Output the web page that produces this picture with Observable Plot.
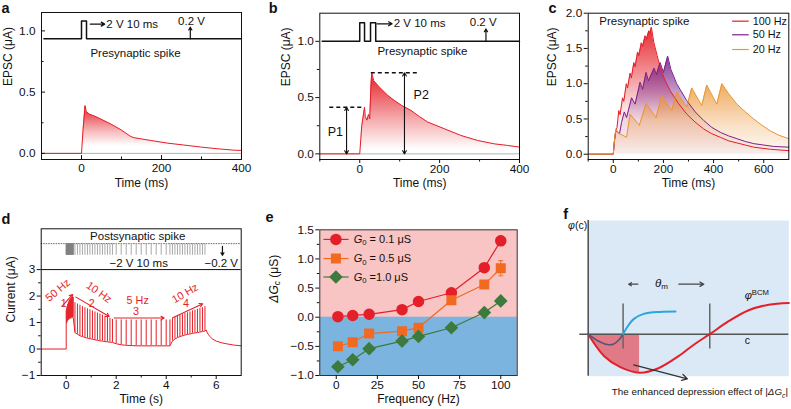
<!DOCTYPE html>
<html><head><meta charset="utf-8">
<script src="https://cdn.jsdelivr.net/npm/d3@7"></script>
<script src="https://cdn.jsdelivr.net/npm/@observablehq/plot@0.6"></script>
<style>
html,body{margin:0;padding:0;background:#fff;}
#fig{position:relative;width:791px;height:409px;overflow:hidden;}
#fig svg{position:absolute;left:0;top:0;}
</style></head><body><div id="fig"></div>
<script>
// ---------------- data ----------------
// panel a : single presynaptic spike
const aTime = [-100,0,4,9,12,20,39,72,100,122,131,172,214,256,297,339,381,400];
const aEPSC = [0,0,0.2,0.39,0.34,0.32,0.295,0.242,0.19,0.14,0.128,0.106,0.084,0.068,0.052,0.038,0.026,0.024];
const aStimT = [-94,0,0,12.5,12.5,400];
const aStimV = [0.935,0.935,1.08,1.08,0.935,0.935];
// panel b : paired pulse
const bTime = [-100,0,5,12,14,18,22,25,28,30,35,50,70,86,105,128,150,170,212,253,295,337,370,400];
const bEPSC = [0,0,0.25,0.414,0.33,0.3,0.35,0.31,0.6,0.72,0.65,0.59,0.52,0.476,0.43,0.387,0.33,0.283,0.223,0.164,0.119,0.089,0.075,0.06];
const bStimT = [-94,0,0,12,12,27,27,40,40,400];
const bStimV = [1,1,1.165,1.165,1,1,1.165,1.165,1,1];
const bPeakNames = ["P1","P2"];
const bPeakLevels = [0.414,0.72];
// panel c : spike trains
const cNames = ["100 Hz","50 Hz","20 Hz"];
const c100T = [-100,0,5,10,15,22,27,37,42,52,57,67,72,82,87,97,102,112,117,127,132,142,146,152,162,175,187,205,227,260,293,325,360,393,427,460,493,527,560,627,700];
const c100V = [0,0,0.2,0.33,0.38,0.62,0.56,0.8,0.75,1.0,0.94,1.15,1.08,1.3,1.24,1.45,1.4,1.58,1.53,1.68,1.63,1.75,1.72,1.8,1.58,1.4,1.23,1.06,0.9,0.72,0.57,0.46,0.36,0.29,0.24,0.19,0.16,0.13,0.1,0.07,0.05];
const c50T = [-100,0,5,10,13,25,33,44,53,73,87,107,117,131,140,163,172,187,200,217,230,253,293,327,360,393,427,460,493,527,560,600,640,700];
const c50V = [0,0,0.2,0.33,0.33,0.29,0.45,0.6,0.52,0.8,0.71,1.02,0.92,1.16,1.04,1.22,1.13,1.3,1.16,1.39,1.2,1.0,0.76,0.6,0.48,0.38,0.31,0.26,0.22,0.18,0.15,0.13,0.11,0.1];
const c20T = [-100,0,5,10,20,53,67,104,131,171,193,233,253,293,313,353,373,413,433,460,493,527,560,593,627,660,700];
const c20V = [0,0,0.2,0.36,0.3,0.24,0.57,0.41,0.72,0.52,0.83,0.62,0.88,0.67,0.94,0.69,0.98,0.71,1.0,0.86,0.71,0.6,0.5,0.41,0.33,0.27,0.22];
// panel d : postsynaptic spike train (spike times, peaks, troughs)
const dT50 = [0,0.02,0.04,0.06,0.08,0.10,0.12,0.14,0.16,0.18,0.20,0.22,0.24,0.26,0.28];
const dP50 = [1.45,1.55,1.62,1.68,1.73,1.78,1.82,1.86,1.88,1.9,1.92,1.93,1.94,1.95,1.95];
const dB50 = [0.95,1.0,1.05,1.08,1.1,1.12,1.14,1.15,1.16,1.17,1.18,1.18,1.19,1.2,1.2];
const dT10a = [0.35,0.45,0.55,0.65,0.75,0.85,0.95,1.05,1.15,1.25,1.35,1.45,1.55,1.65,1.75,1.85];
const dP10a = [1.75,1.7,1.65,1.6,1.56,1.52,1.48,1.44,1.4,1.36,1.32,1.28,1.24,1.2,1.16,1.12];
const dB10a = [0.62,0.56,0.5,0.47,0.44,0.41,0.39,0.37,0.35,0.33,0.31,0.3,0.28,0.27,0.26,0.25];
const dT5 = [2.0,2.2,2.4,2.6,2.8,3.0,3.2,3.4,3.6,3.8,4.0];
const dP5 = [1.1,1.1,1.09,1.1,1.08,1.1,1.09,1.1,1.08,1.1,1.1];
const dB5 = [0.2,0.16,0.14,0.13,0.12,0.12,0.12,0.12,0.12,0.12,0.12];
const dT10b = [4.15,4.25,4.35,4.45,4.55,4.65,4.75,4.85,4.95,5.05,5.15,5.25,5.35,5.45,5.55];
const dP10b = [1.1,1.15,1.19,1.23,1.27,1.3,1.34,1.37,1.4,1.44,1.47,1.5,1.53,1.56,1.6];
const dB10b = [0.12,0.3,0.38,0.43,0.47,0.5,0.53,0.55,0.57,0.59,0.61,0.62,0.64,0.66,0.68];
const dTailT = [5.6,5.65,5.72,5.85,6.0,6.2,6.4,6.7,7.0];
const dTailV = [0.72,0.6,0.5,0.38,0.3,0.24,0.2,0.15,0.12];
// panel e : ΔGc vs frequency
const eFreq = [1,10,20,40,50,70,90,100];
const eG01 = [0.01,0.03,0.05,0.13,0.27,0.42,0.85,1.31];
const eG05 = [-0.5,-0.43,-0.28,-0.24,-0.18,0.29,0.56,0.84];
const eG10 = [-0.85,-0.73,-0.54,-0.41,-0.33,-0.18,0.08,0.28];
const eErr01 = [0,0,0,0,0,0.02,0.03,0.08];
const eErr05 = [0,0,0,0,0,0.03,0.06,0.13];
const eErr10 = [0,0,0,0,0,0,0.02,0.03];
const eNames = ["G0 = 0.1 μS","G0 = 0.5 μS","G0 =1.0 μS"];
// panel f : BCM schematic
const fBcmX = [0,8,16,25.6,35,45,53,60.6,70,80,90,100];
const fBcmY = [0,-22,-33,-38.5,-34,-22,-10,0,13,24,29.5,31.3];
const fDipX = [0,4.5,9.5,12.8,15.3,17.4];
const fDipY = [0,-6.3,-10.3,-9.7,-5.7,0];
const fLtpX = [17.4,19.4,22.8,27.7,36,43.5];
const fLtpY = [0,7,15.3,20.3,22.3,22.7];
const fTheta = [17.4,60.6];

// ---------------- helpers ----------------
const W = 791, H = 409;
const FONT = '"Liberation Sans", Arial, Helvetica, sans-serif';
const RED = "#e41e26", PURPLE = "#7a2188", ORANGE = "#eb9535";
const FS = 12, FT = 11.5, FTICK = 11.8;
const zip = (X, Y) => X.map((x, i) => ({x, y: Y[i]}));
const txt = (s, o) => Plot.text([s], {text: d => d, fontSize: FT, fontFamily: FONT, ...o});

function mkPlot(fr, xd, yd, marks, noAxes) {
  const [l, t, r, b] = fr;
  return Plot.plot({
    width: W, height: H,
    marginLeft: l, marginTop: t, marginRight: W - r, marginBottom: H - b,
    x: noAxes ? {domain: xd, axis: null} : {domain: xd},
    y: noAxes ? {domain: yd, axis: null} : {domain: yd},
    style: `background: transparent; font-family: ${FONT}; font-size: ${FT}px; overflow: visible; color: #111;`,
    marks
  });
}
function axes(o) {
  const s = o.inward ? -1 : 1;
  const m = [
    Plot.axisX(o.xt, {anchor: "bottom", tickSize: 4 * s, tickPadding: o.inward ? 8.5 : 1, tickFormat: o.xf, label: null, fontSize: FTICK, fontFamily: FONT}),
    Plot.axisY(o.yt, {anchor: "left", tickSize: 4 * s, tickPadding: o.inward ? 10 : 2, tickFormat: o.yf, label: null, fontSize: FTICK, fontFamily: FONT})
  ];
  if (o.xm) m.push(Plot.axisX(o.xm, {anchor: "bottom", tickSize: 2.5 * s, tickFormat: () => "", label: null}));
  if (o.ym) m.push(Plot.axisY(o.ym, {anchor: "left", tickSize: 2.5 * s, tickFormat: () => "", label: null}));
  return m;
}
function titles(xl, xdy, yl, ydx, letter, ldx, ldy, ly) {
  const m = [
    txt(xl, {frameAnchor: "bottom", dy: xdy, fontSize: FS}),
    txt(letter, {frameAnchor: "top-left", dx: ldx, dy: ldy, textAnchor: "start", lineAnchor: "bottom", fontSize: 14.5, fontWeight: "bold"})
  ];
  if (ly === undefined) m.push(txt(yl, {frameAnchor: "left", dx: ydx, rotate: -90, fontSize: FS}));
  else m.push(Plot.text([ly], {y: d => d, text: () => yl, frameAnchor: "left", dx: ydx, rotate: -90, fontSize: FS, fontFamily: FONT}));
  return m;
}
const NS = "http://www.w3.org/2000/svg";
function addGrad(svg, id, color, stops) {
  let defs = svg.querySelector("defs");
  if (!defs) { defs = document.createElementNS(NS, "defs"); svg.insertBefore(defs, svg.firstChild); }
  const g = document.createElementNS(NS, "linearGradient");
  g.setAttribute("id", id); g.setAttribute("x1", "0"); g.setAttribute("y1", "0"); g.setAttribute("x2", "0"); g.setAttribute("y2", "1");
  for (const [off, op] of stops) {
    const s = document.createElementNS(NS, "stop");
    s.setAttribute("offset", off); s.setAttribute("stop-color", color); s.setAttribute("stop-opacity", op);
    g.appendChild(s);
  }
  defs.appendChild(g);
}
const RICH = {
  "G0 = 0.1 μS": [["G", "i"], ["0", "sub"], [" = 0.1 μS", ""]],
  "G0 = 0.5 μS": [["G", "i"], ["0", "sub"], [" = 0.5 μS", ""]],
  "G0 =1.0 μS": [["G", "i"], ["0", "sub"], [" =1.0 μS", ""]],
  "ΔGc (μS)": [["ΔG", "i"], ["c", "isub"], [" (μS)", ""]],
  "θm": [["θ", "i"], ["m", "sub"]],
  "φBCM": [["φ", "i"], ["BCM", "sup"]],
  "φ(c)": [["φ", "i"], ["(c)", ""]],
  "The enhanced depression effect of |ΔGc|": [["The enhanced depression effect of |", ""], ["ΔG", "i"], ["c", "isub"], ["|", ""]]
};
function richify(svg) {
  svg.querySelectorAll("text").forEach(t => {
    const segs = RICH[t.textContent];
    if (!segs) return;
    while (t.firstChild) t.removeChild(t.firstChild);
    let shift = 0;
    for (const [s, k] of segs) {
      const ts = document.createElementNS(NS, "tspan");
      ts.textContent = s;
      const target = k.includes("sub") ? 2.5 : k.includes("sup") ? -4 : 0;
      if (target !== shift) { ts.setAttribute("dy", target - shift); shift = target; }
      if (k.startsWith("i")) ts.setAttribute("font-style", "italic");
      if (k.includes("sub") || k.includes("sup")) ts.setAttribute("font-size", "0.7em");
      t.appendChild(ts);
    }
  });
}
const f1 = d3.format(".1f"), f0 = d3.format("d");

// ---------------- panel a ----------------
const aRows = zip(aTime, aEPSC);
const aPlot = mkPlot([41, 12, 241, 159], [-100, 400], [-0.05, 1.15], [
  Plot.ruleY([0], {stroke: "#a0a0a0", strokeWidth: 0.8}),
  Plot.areaY(aRows, {x: "x", y: "y", fill: "url(#gradA)"}),
  Plot.line(aRows, {x: "x", y: "y", stroke: RED, strokeWidth: 1}),
  Plot.line(zip(aStimT, aStimV), {x: "x", y: "y", stroke: "#111", strokeWidth: 1.5}),
  Plot.arrow([0], {x1: 22, y1: 1.055, x2: 58, y2: 1.055, headLength: 5, strokeWidth: 1.2}),
  txt("2 V 10 ms", {x: 62, y: 1.055, textAnchor: "start"}),
  txt("0.2 V", {x: 275, y: 1.08}),
  Plot.arrow([0], {x1: 272, y1: 0.935, x2: 272, y2: 1.03, headLength: 4, strokeWidth: 1.2}),
  txt("Presynaptic spike", {x: 135, y: 0.818}),
  Plot.frame({stroke: "#111"}),
  ...axes({xt: [0, 200, 400], xm: [-100, 100, 300], xf: f0, yt: [0, 0.5, 1.0], ym: [0.25, 0.75], yf: f1, inward: true}),
  ...titles("Time (ms)", 27.5, "EPSC (μA)", -33, "a", -40, 0)
]);
addGrad(aPlot, "gradA", RED, [[0, 1], [0.55, 0.3], [0.85, 0]]);

// ---------------- panel b ----------------
const bRows = zip(bTime, bEPSC);
const bPlot = mkPlot([319.3, 12.7, 519, 159], [-100, 400], [-0.05, 1.25], [
  Plot.ruleY([0], {stroke: "#a0a0a0", strokeWidth: 0.8}),
  Plot.areaY(bRows, {x: "x", y: "y", fill: "url(#gradB)"}),
  Plot.line(bRows, {x: "x", y: "y", stroke: RED, strokeWidth: 1}),
  Plot.line(zip(bStimT, bStimV), {x: "x", y: "y", stroke: "#111", strokeWidth: 1.5}),
  Plot.arrow([0], {x1: 43, y1: 1.156, x2: 81, y2: 1.156, headLength: 5, strokeWidth: 1.2}),
  txt("2 V 10 ms", {x: 85, y: 1.156, textAnchor: "start"}),
  txt("0.2 V", {x: 309, y: 1.165}),
  Plot.arrow([0], {x1: 316, y1: 1.0, x2: 316, y2: 1.11, headLength: 4, strokeWidth: 1.2}),
  txt("Presynaptic spike", {x: 157, y: 0.913}),
  Plot.ruleY(bPeakLevels, {y: d => d, x1: (d, i) => [-75, 29][i], x2: (d, i) => [10, 148][i], stroke: "#111", strokeWidth: 1.5, strokeDasharray: "4,3"}),
  Plot.arrow(bPeakLevels, {x1: (d, i) => [-33, 112][i], x2: (d, i) => [-33, 112][i], y1: d => d / 2, y2: d => d, headLength: 5, strokeWidth: 1.1}),
  Plot.arrow(bPeakLevels, {x1: (d, i) => [-33, 112][i], x2: (d, i) => [-33, 112][i], y1: d => d / 2, y2: 0, headLength: 5, strokeWidth: 1.1}),
  Plot.text(bPeakNames, {text: d => d, x: (d, i) => [-61, 154][i], y: (d, i) => [0.19, 0.52][i], fontSize: 12.5, fontFamily: FONT}),
  Plot.frame({stroke: "#111"}),
  ...axes({xt: [0, 200, 400], xm: [-100, 100, 300], xf: f0, yt: [0, 0.5, 1.0], ym: [0.25, 0.75], yf: f1}),
  ...titles("Time (ms)", 27.5, "EPSC (μA)", -34, "b", -51, -0.7)
]);
addGrad(bPlot, "gradB", RED, [[0, 1], [0.6, 0.35], [0.95, 0]]);

// ---------------- panel c ----------------
const cSeries = [zip(c100T, c100V), zip(c50T, c50V), zip(c20T, c20V)];
const cColors = [RED, PURPLE, ORANGE];
const cLegY = [1.887, 1.694, 1.485];
const cPlot = mkPlot([587.7, 12.7, 788.3, 159], [-100, 700], [-0.075, 2.0], [
  Plot.areaY(cSeries[0], {x: "x", y: "y", fill: "url(#gradC0)"}),
  Plot.areaY(cSeries[1], {x: "x", y: "y", fill: "url(#gradC1)"}),
  Plot.areaY(cSeries[2], {x: "x", y: "y", fill: "url(#gradC2)"}),
  Plot.line(cSeries[0], {x: "x", y: "y", stroke: RED, strokeWidth: 1}),
  Plot.line(cSeries[1], {x: "x", y: "y", stroke: PURPLE, strokeWidth: 1}),
  Plot.line(cSeries[2], {x: "x", y: "y", stroke: ORANGE, strokeWidth: 1}),
  txt("Presynaptic spike", {x: -56, y: 1.886, textAnchor: "start"}),
  Plot.link(cNames, {x1: 474, x2: 540, y1: (d, i) => cLegY[i], y2: (d, i) => cLegY[i], stroke: (d, i) => cColors[i], strokeWidth: 1.2}),
  Plot.text(cNames, {text: d => d, x: 556, y: (d, i) => cLegY[i], textAnchor: "start", fontSize: 10.8, fontFamily: FONT}),
  Plot.frame({stroke: "#111"}),
  ...axes({xt: [0, 200, 400, 600], xm: [-100, 100, 300, 500], xf: f0, yt: [0, 0.5, 1.0, 1.5, 2.0], ym: [0.25, 0.75, 1.25, 1.75], yf: f1}),
  ...titles("Time (ms)", 27.5, "EPSC (μA)", -36, "c", -39.7, -0.7)
]);
addGrad(cPlot, "gradC0", RED, [[0, 0.95], [0.65, 0.12], [1, 0.02]]);
addGrad(cPlot, "gradC1", PURPLE, [[0, 0.9], [0.65, 0.1], [1, 0.03]]);
addGrad(cPlot, "gradC2", ORANGE, [[0, 0.8], [0.6, 0.28], [1, 0.06]]);

// ---------------- panel d ----------------
const dSpikes = [];
[[dT50, dP50, dB50], [dT10a, dP10a, dB10a], [dT5, dP5, dB5], [dT10b, dP10b, dB10b]].forEach(([T, P, B]) =>
  T.forEach((t, i) => dSpikes.push({t, p: P[i], b: B[i]})));
const dTrace = [{x: -1, y: 0}, {x: 0, y: 0}, ...dSpikes.map(s => ({x: s.t, y: s.b})), ...zip(dTailT, dTailV)];
const dRed = {fill: RED, fontSize: 10.8};
const dPlot = mkPlot([40.7, 228.3, 240.7, 375], [-1, 7], [-1, 4.54], [
  Plot.line(dTrace, {x: "x", y: "y", stroke: RED, strokeWidth: 1}),
  Plot.ruleX(dSpikes, {x: "t", y1: "b", y2: "p", stroke: RED, strokeWidth: 1}),
  // stimulus box
  Plot.ruleY([3], {stroke: "#111"}),
  Plot.ruleY([3.98], {stroke: "#666", strokeWidth: 1, strokeDasharray: "1.5,1"}),
  Plot.ruleX(dSpikes.filter(s => s.t < 0.3), {x: "t", y1: 3.54, y2: 3.98, stroke: "#808080", strokeWidth: 1.2}),
  Plot.ruleX(dSpikes.filter(s => s.t >= 0.3), {x: "t", y1: 3.54, y2: 3.98, stroke: "#a8a8a8", strokeWidth: 1}),
  txt("Postsynaptic spike", {x: 2.86, y: 4.27}),
  txt("−2 V 10 ms", {x: 2.9, y: 3.24}),
  txt("−0.2 V", {x: 6.2, y: 3.24}),
  Plot.arrow([0], {x1: 6.25, y1: 3.88, x2: 6.25, y2: 3.54, headLength: 4, strokeWidth: 1.2}),
  // annotations
  Plot.arrow([0], {x1: -0.17, y1: 1.61, x2: 0.26, y2: 2.06, stroke: RED, headLength: 5, strokeWidth: 1.1}),
  Plot.arrow([0], {x1: 0.39, y1: 1.96, x2: 1.72, y2: 1.23, stroke: RED, headLength: 5, strokeWidth: 1.1}),
  Plot.arrow([0], {x1: 1.92, y1: 1.17, x2: 3.92, y2: 1.17, stroke: RED, headLength: 5, strokeWidth: 1.1}),
  Plot.arrow([0], {x1: 4.26, y1: 1.18, x2: 5.46, y2: 1.71, stroke: RED, headLength: 5, strokeWidth: 1.1}),
  txt("50 Hz", {x: -0.33, y: 2.22, rotate: -40, ...dRed}),
  txt("1", {x: -0.1, y: 1.71, ...dRed}),
  txt("10 Hz", {x: 1.31, y: 2.14, rotate: 35, ...dRed}),
  txt("2", {x: 1.02, y: 1.71, ...dRed}),
  txt("5 Hz", {x: 2.86, y: 1.84, ...dRed}),
  txt("3", {x: 2.79, y: 1.42, ...dRed}),
  txt("10 Hz", {x: 4.75, y: 2.1, rotate: -30, ...dRed}),
  txt("4", {x: 4.79, y: 1.71, ...dRed}),
  Plot.frame({stroke: "#111"}),
  ...axes({xt: [0, 2, 4, 6], xm: [1, 3, 5], xf: f0, yt: [-1, 0, 1, 2, 3], ym: [-0.5, 0.5, 1.5, 2.5], yf: d3.format("d")}),
  ...titles("Time (s)", 27.5, "Current (μA)", -30, "d", -39.7, -5, 1)
]);

// ---------------- panel e ----------------
const eSets = [eG01, eG05, eG10].map((Y, k) => eFreq.map((f, i) => ({f, v: Y[i], e: [eErr01, eErr05, eErr10][k][i]})));
const eColors = ["#e3202a", "#f26a21", "#3d7a3d"];
const eSymbols = ["circle", "square", "diamond2"];
const eR = [5, 4.8, 5.2];
const eLegY = [1.335, 1.007, 0.69];
const eMarks = [
  Plot.frame({fill: "#f8c4c4", stroke: null}),
  Plot.rect([0], {x1: -10, x2: 110, y1: -1, y2: 0, fill: "#7cb4e0"})
];
eSets.forEach((rows, k) => {
  const err = rows.filter(d => d.e > 0);
  eMarks.push(
    Plot.ruleX(err, {x: "f", y1: d => d.v - d.e, y2: d => d.v + d.e, stroke: eColors[k], strokeWidth: 1}),
    Plot.link(err, {x1: d => d.f - 1.5, x2: d => d.f + 1.5, y1: d => d.v + d.e, y2: d => d.v + d.e, stroke: eColors[k]}),
    Plot.link(err, {x1: d => d.f - 1.5, x2: d => d.f + 1.5, y1: d => d.v - d.e, y2: d => d.v - d.e, stroke: eColors[k]}),
    Plot.line(rows, {x: "f", y: "v", stroke: eColors[k], strokeWidth: 1.2}),
    Plot.dot(rows, {x: "f", y: "v", symbol: eSymbols[k], r: eR[k], fill: eColors[k], stroke: eColors[k]}),
    Plot.link([eNames[k]], {x1: -7.8, x2: 7.5, y1: eLegY[k], y2: eLegY[k], stroke: eColors[k], strokeWidth: 1.2}),
    Plot.dot([eNames[k]], {x: -0.2, y: eLegY[k], symbol: eSymbols[k], r: eR[k], fill: eColors[k], stroke: eColors[k]}),
    txt(eNames[k], {x: 10.6, y: eLegY[k], textAnchor: "start", fontSize: 11})
  );
});
const ePlot = mkPlot([319.3, 229.3, 516.7, 375], [-10, 110], [-1, 1.5], [
  ...eMarks,
  Plot.frame({stroke: "#333"}),
  ...axes({xt: [0, 25, 50, 75, 100], xf: f0, yt: [-1, -0.5, 0, 0.5, 1.0, 1.5], ym: [-0.75, -0.25, 0.25, 0.75, 1.25], yf: f1}),
  ...titles("Frequency (Hz)", 27.5, "ΔGc (μS)", -46, "e", -54.3, -7.6)
]);

// ---------------- panel f ----------------
const fBcm = zip(fBcmX, fBcmY);
const fPlot = mkPlot([587.7, 220, 788.3, 375.7], [0, 100], [-42, 113.7], [
  Plot.frame({fill: "#dbe8f5", stroke: null}),
  Plot.areaY(fBcm.filter(d => d.x <= 25.6), {x: "x", y: "y", fill: "#e05560", fillOpacity: 0.75, curve: "catmull-rom"}),
  Plot.ruleX([0], {stroke: "#555", strokeWidth: 1.6}),
  Plot.ruleY([0], {x1: -4.2, x2: 100, stroke: "#555", strokeWidth: 1.6}),
  Plot.ruleX(fTheta, {y1: -14.7, y2: 30.3, stroke: "#666", strokeWidth: 1.5}),
  Plot.line(fBcm, {x: "x", y: "y", stroke: "#e3202a", strokeWidth: 2, curve: "catmull-rom"}),
  Plot.line(zip(fDipX, fDipY), {x: "x", y: "y", stroke: "#5a527a", strokeWidth: 1.6, curve: "catmull-rom"}),
  Plot.line(zip(fLtpX, fLtpY), {x: "x", y: "y", stroke: "#29a8df", strokeWidth: 2, curve: "catmull-rom"}),
  Plot.arrow([0], {x1: 24.7, y1: 50, x2: 20.2, y2: 50, headLength: 5, strokeWidth: 1.3, stroke: "#444"}),
  Plot.arrow([0], {x1: 45.2, y1: 50, x2: 57.6, y2: 50, headLength: 5, strokeWidth: 1.3, stroke: "#444"}),
  txt("θm", {x: 36.5, y: 51, fontSize: 11.5}),
  txt("φBCM", {x: 78, y: 39, textAnchor: "start", fontSize: 11}),
  txt("c", {x: 78, y: -6.3, textAnchor: "start", fontSize: 10.5}),
  txt("φ(c)", {x: -5.3, y: 108.7, fontSize: 10.5}),
  Plot.arrow([0], {x1: 22.7, y1: -30.6, x2: 49.4, y2: -44.6, headLength: 7, strokeWidth: 1.3, stroke: "#333"}),
  txt("The enhanced depression effect of |ΔGc|", {x: 99.6, y: -58, textAnchor: "end", fontSize: 9.8}),
  txt("f", {frameAnchor: "top-left", dx: -25, dy: -1.7, textAnchor: "start", lineAnchor: "bottom", fontSize: 14.5, fontWeight: "bold"})
], true);

const fig = document.getElementById("fig");
for (const p of [aPlot, bPlot, cPlot, dPlot, ePlot, fPlot]) { richify(p); fig.appendChild(p); }
</script></body></html>
